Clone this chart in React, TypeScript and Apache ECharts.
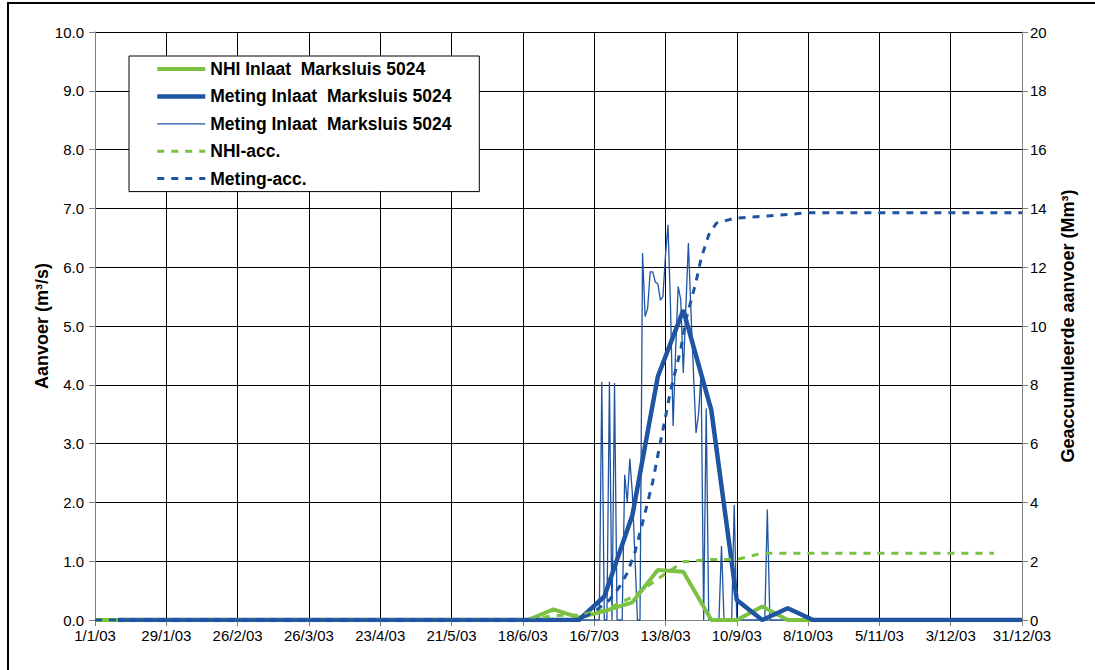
import { useEffect, useRef } from "react";
import * as echarts from "echarts";

// Day numbers are counted from 1 January 2003 (day 0).
const YEAR = 2003;
const YEAR_START = Date.UTC(YEAR, 0, 1);
const DAY_MS = 86400000;

// Series names (the two measured series share a label; the second keeps a trailing space)
const NAME_NHI = "NHI Inlaat  Marksluis 5024";
const NAME_METING = "Meting Inlaat  Marksluis 5024";
const NAME_METING_DAY = "Meting Inlaat  Marksluis 5024 ";
const NAME_NHI_ACC = "NHI-acc.";
const NAME_METING_ACC = "Meting-acc.";

// Decade values (10th, 20th and last day of each month), m3/s
const nhiDecade = [
  0, 0, 0, 0, 0, 0, 0, 0, 0, 0, 0, 0, 0, 0, 0, // Jan - May
  0, 0, 0.18, // Jun
  0.04, 0.15, 0.3, // Jul
  0.85, 0.82, 0, // Aug
  0, 0.23, 0, // Sep
  0, 0, 0, 0, 0, 0, 0, 0, 0, // Oct - Dec
];
const metingDecade = [
  0, 0, 0, 0, 0, 0, 0, 0, 0, 0, 0, 0, 0, 0, 0, // Jan - May
  0, 0, 0, // Jun
  0, 0.4, 1.78, // Jul
  4.14, 5.27, 3.57, // Aug
  0.34, 0, 0.2, // Sep
  0, 0, 0, 0, 0, 0, 0, 0, 0, // Oct - Dec
];

// Daily measured discharge, m3/s, from day 196 onward (zero outside this period)
const metingDailyStart = 196;
const metingDaily = [
  0, 0, 0, 4.05, 0, 0, 4.05, 0, 4.03, 0, // 196-205
  0, 0, 2.47, 2.0, 2.74, 2.15, 1.1, 0, 0, 6.24, // 206-215
  5.16, 5.3, 5.92, 5.92, 5.75, 5.72, 5.44, 5.5, 6.2, 6.72, // 216-225
  5.3, 3.3, 4.6, 5.67, 5.45, 4.2, 5.3, 6.41, 5.27, 4.2, // 226-235
  3.18, 3.5, 4.2, 0, 3.6, 0, 0, 0, 0, 0, // 236-245
  1.26, 0, 0, 0, 0, 1.96, 0, 0, 0, 0, // 246-255
  0, 0, 0, 0, 0, 0, 0, 0, 1.88, 0, // 256-265
];

// Accumulated volumes, Mm3, as [day, value]
const nhiAcc: [number, number][] = [
  [0, 0], [170, 0], [180, 0.15], [190, 0.17], [200, 0.34], [211, 0.78],
  [221, 1.4], [231, 1.98], [242, 2.06], [252, 2.06], [262, 2.27], [353, 2.27],
];
const metingAcc: [number, number][] = [
  [0, 0], [190, 0], [196, 0.28], [202, 0.68], [206, 1.13], [209, 1.6],
  [212, 2.3], [215, 3.3], [219, 4.7], [221, 5.6], [224, 6.9], [226, 7.8],
  [230, 9.2], [232, 10.2], [236, 11.5], [238, 12.3], [241, 13.1],
  [244, 13.5], [251, 13.66], [264, 13.74], [280, 13.85], [364, 13.85],
];

const GREEN = "#7BC142";
const BLUE = "#1F54A3";
const FONT = 'Arial, "Liberation Sans", sans-serif';

const dayOf = (month: number, date: number) =>
  Math.round((Date.UTC(YEAR, month, date) - YEAR_START) / DAY_MS);

// Day numbers of the decade ends
const decadeDays: number[] = [];
for (let m = 0; m < 12; m++) {
  const last = new Date(Date.UTC(YEAR, m + 1, 0)).getUTCDate();
  decadeDays.push(dayOf(m, 10), dayOf(m, 20), dayOf(m, last));
}

const dayLabel = (v: number) => {
  const d = new Date(YEAR_START + v * DAY_MS);
  return `${d.getUTCDate()}/${d.getUTCMonth() + 1}/${String(d.getUTCFullYear() % 100).padStart(2, "0")}`;
};

export default function App() {
  const ref = useRef<HTMLDivElement>(null);

  useEffect(() => {
    document.body.style.margin = "0";
    if (!ref.current) return;
    const chart = echarts.init(ref.current, undefined, { renderer: "svg" });

    const nhiData = [[0, 0], ...decadeDays.map((d, i) => [d, nhiDecade[i]])];
    const metingData = decadeDays.map((d, i) => [d, metingDecade[i]]);
    const dailyData: number[][] = [[0, 0]];
    metingDaily.forEach((v, i) => dailyData.push([metingDailyStart + i, v]));
    dailyData.push([364, 0]);

    const axisText = { color: "#000", fontFamily: FONT, fontSize: 15, lineHeight: 15 };
    const nameText = { color: "#000", fontFamily: FONT, fontSize: 18, fontWeight: "bold" as const };
    // legend entries show the line only, without a marker
    const noMarker = { color: "transparent", borderColor: "transparent", borderWidth: 0, opacity: 0 };

    chart.setOption({
      animation: false,
      backgroundColor: "#fff",
      grid: { left: 95, right: 73, top: 32, bottom: 50, containLabel: false },
      graphic: [
        {
          type: "rect",
          shape: { x: 8, y: 3, width: 1200, height: 800 },
          style: { fill: "none", stroke: "#000", lineWidth: 2 },
          silent: true,
          z: 100,
        },
      ],
      legend: {
        orient: "vertical",
        left: 129,
        top: 56,
        padding: [4, 23, 4, 26],
        itemGap: 9.4,
        itemWidth: 48,
        itemHeight: 14,
        itemTextGap: 5,
        backgroundColor: "#fff",
        borderColor: "#000",
        borderWidth: 1,
        textStyle: { ...nameText, fontSize: 17.5 },
        data: [
          { name: NAME_NHI, lineStyle: { width: 4 }, itemStyle: noMarker },
          { name: NAME_METING, lineStyle: { width: 4.5 }, itemStyle: noMarker },
          { name: NAME_METING_DAY, lineStyle: { width: 1.3 }, itemStyle: noMarker },
          { name: NAME_NHI_ACC, lineStyle: { width: 3 }, itemStyle: noMarker },
          { name: NAME_METING_ACC, lineStyle: { width: 3 }, itemStyle: noMarker },
        ],
      },
      xAxis: {
        type: "value",
        min: 0,
        max: 364,
        interval: 28,
        axisLine: { show: true, lineStyle: { color: "#808080" } },
        axisTick: { show: true, length: 6, lineStyle: { color: "#808080" } },
        axisLabel: { ...axisText, margin: 8, formatter: dayLabel },
        splitLine: { show: true, lineStyle: { color: "#000", width: 1 } },
      },
      yAxis: [
        {
          type: "value",
          min: 0,
          max: 10,
          interval: 1,
          name: "Aanvoer (m³/s)",
          nameLocation: "middle",
          nameRotate: 90,
          nameGap: 44,
          nameMoveOverlap: false,
          nameTextStyle: nameText,
          axisLine: { show: true, lineStyle: { color: "#808080" } },
          axisTick: { show: true, length: 6, lineStyle: { color: "#808080" } },
          axisLabel: { ...axisText, margin: 11, formatter: (v: number) => v.toFixed(1) },
          splitLine: { show: true, lineStyle: { color: "#000", width: 1 } },
        },
        {
          type: "value",
          min: 0,
          max: 20,
          interval: 2,
          position: "right",
          name: "Geaccumuleerde aanvoer (Mm³)",
          nameLocation: "middle",
          nameRotate: 90,
          nameGap: 37,
          nameTextStyle: nameText,
          axisLine: { show: true, lineStyle: { color: "#808080" } },
          axisTick: { show: true, length: 6, lineStyle: { color: "#808080" } },
          axisLabel: { ...axisText, margin: 8 },
          splitLine: { show: false },
        },
      ],
      series: [
        {
          name: NAME_NHI,
          type: "line",
          data: nhiData,
          symbol: "none",
          z: 3,
          lineStyle: { color: GREEN, width: 4 },
          itemStyle: { color: GREEN },
        },
        {
          name: NAME_METING,
          type: "line",
          data: metingData,
          symbol: "none",
          z: 4,
          lineStyle: { color: BLUE, width: 4.5 },
          itemStyle: { color: BLUE },
        },
        {
          name: NAME_METING_DAY,
          type: "line",
          data: dailyData,
          symbol: "none",
          z: 2,
          lineStyle: { color: BLUE, width: 1.3 },
          itemStyle: { color: BLUE },
        },
        {
          name: NAME_NHI_ACC,
          type: "line",
          yAxisIndex: 1,
          data: nhiAcc,
          symbol: "none",
          z: 5,
          lineStyle: { color: GREEN, width: 3, type: [7, 7] },
          itemStyle: { color: GREEN },
        },
        {
          name: NAME_METING_ACC,
          type: "line",
          yAxisIndex: 1,
          data: metingAcc,
          symbol: "none",
          z: 5,
          lineStyle: { color: BLUE, width: 3, type: [7, 7] },
          itemStyle: { color: BLUE },
        },
      ],
    });

    return () => chart.dispose();
  }, []);

  return <div ref={ref} style={{ width: 1095, height: 670 }} />;
}
